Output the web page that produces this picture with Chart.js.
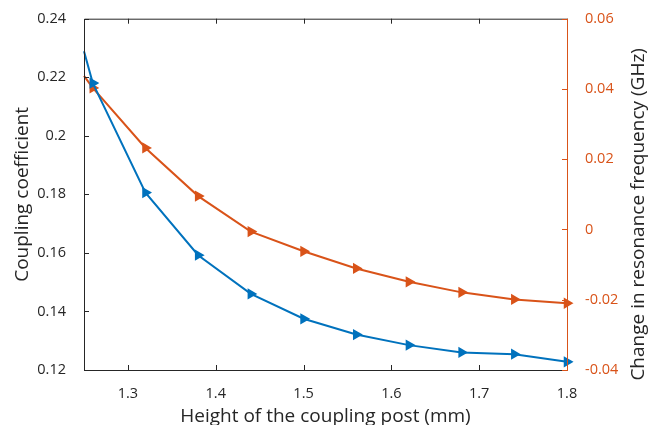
<!DOCTYPE html>
<html>
<head>
<meta charset="utf-8">
<script src="https://cdn.jsdelivr.net/npm/chart.js@4/dist/chart.umd.min.js"></script>
<style>
  body { margin: 0; background: #fff; }
</style>
</head>
<body>
<canvas id="chart" width="649" height="425"></canvas>
<script>
const heights = [1.25, 1.26, 1.32, 1.38, 1.44, 1.50, 1.56, 1.62, 1.68, 1.74, 1.80];
const coupling = [0.2289, 0.218, 0.1806, 0.1592, 0.146, 0.1375, 0.1321, 0.1285, 0.126, 0.1254, 0.1228];
const freqShift = [0.0437, 0.0403, 0.0232, 0.0095, -0.0006, -0.0062, -0.0111, -0.0149, -0.0179, -0.0199, -0.0210];
const xTicks = [1.3, 1.4, 1.5, 1.6, 1.7, 1.8];
const leftTicks = [0.12, 0.14, 0.16, 0.18, 0.2, 0.22, 0.24];
const rightTicks = [-0.04, -0.02, 0, 0.02, 0.04, 0.06];

const BLUE = '#0072BD';
const ORANGE = '#D95319';
const DARK = '#262626';
const FONT = '"Open Sans", sans-serif';

// pas de marqueur sur le premier point (au bord de l'axe)
const radii = heights.map((h, i) => i === 0 ? 0 : 4.5);

// axes façon MATLAB : cadre + graduations vers l'intérieur
const boxPlugin = {
  id: 'box',
  afterDraw(chart) {
    const { ctx, chartArea: a, scales } = chart;
    ctx.save();
    ctx.lineWidth = 1;
    ctx.strokeStyle = DARK;
    ctx.beginPath();
    ctx.moveTo(a.right, a.top + 0.5); ctx.lineTo(a.left + 0.5, a.top + 0.5);
    ctx.lineTo(a.left + 0.5, a.bottom + 0.5); ctx.lineTo(a.right, a.bottom + 0.5);
    xTicks.forEach(v => {
      const x = Math.round(scales.x.getPixelForValue(v)) + 0.5;
      ctx.moveTo(x, a.bottom); ctx.lineTo(x, a.bottom - 5);
      ctx.moveTo(x, a.top); ctx.lineTo(x, a.top + 5);
    });
    leftTicks.forEach(v => {
      const y = Math.round(scales.y.getPixelForValue(v)) + 0.5;
      ctx.moveTo(a.left, y); ctx.lineTo(a.left + 5, y);
    });
    ctx.stroke();

    ctx.strokeStyle = ORANGE;
    ctx.beginPath();
    ctx.moveTo(a.right + 0.5, a.top); ctx.lineTo(a.right + 0.5, a.bottom + 1);
    rightTicks.forEach(v => {
      const y = Math.round(scales.y2.getPixelForValue(v)) + 0.5;
      ctx.moveTo(a.right, y); ctx.lineTo(a.right - 5, y);
    });
    ctx.stroke();

    // titre de l'axe droit, lu de bas en haut
    ctx.fillStyle = DARK;
    ctx.font = '19px ' + FONT;
    ctx.textAlign = 'center';
    ctx.textBaseline = 'middle';
    ctx.translate(639, (a.top + a.bottom) / 2 + 20);
    ctx.rotate(-Math.PI / 2);
    ctx.fillText('Change in resonance frequency (GHz)', 0, 0);
    ctx.restore();
  }
};

new Chart(document.getElementById('chart'), {
  type: 'line',
  data: {
    datasets: [{
      label: 'Coupling coefficient',
      data: heights.map((h, i) => ({ x: h, y: coupling[i] })),
      borderColor: BLUE,
      backgroundColor: BLUE,
      borderWidth: 2,
      pointStyle: 'triangle',
      rotation: 90,
      pointRadius: radii,
      yAxisID: 'y',
      clip: false
    }, {
      label: 'Change in resonance frequency',
      data: heights.map((h, i) => ({ x: h, y: freqShift[i] })),
      borderColor: ORANGE,
      backgroundColor: ORANGE,
      borderWidth: 2,
      pointStyle: 'triangle',
      rotation: 90,
      pointRadius: radii,
      yAxisID: 'y2',
      clip: false
    }]
  },
  options: {
    responsive: false,
    animation: false,
    layout: { padding: { top: 15, left: 0, right: 0, bottom: 0 } },
    plugins: {
      legend: { display: false },
      tooltip: { enabled: false }
    },
    scales: {
      x: {
        type: 'linear',
        min: 1.25,
        max: 1.8,
        afterBuildTicks: s => { s.ticks = xTicks.map(v => ({ value: v })); },
        afterFit: s => { s.height = 55; },
        grid: { display: false },
        border: { display: false },
        ticks: {
          color: DARK,
          font: { family: FONT, size: 14.5 },
          padding: 7,
          maxRotation: 0,
          callback: v => v.toFixed(1)
        },
        title: {
          display: true,
          text: 'Height of the coupling post (mm)',
          color: DARK,
          font: { family: FONT, size: 19 },
          padding: { top: 0, bottom: -3 }
        }
      },
      y: {
        position: 'left',
        min: 0.12,
        max: 0.24,
        afterBuildTicks: s => { s.ticks = leftTicks.map(v => ({ value: v })); },
        afterFit: s => { s.width = 84; },
        grid: { display: false },
        border: { display: false },
        ticks: {
          color: DARK,
          font: { family: FONT, size: 14.5 },
          padding: 10,
          callback: v => String(Math.round(v * 100) / 100)
        },
        title: {
          display: true,
          text: 'Coupling coefficient',
          color: DARK,
          font: { family: FONT, size: 19 },
          padding: { top: 11, bottom: 0 }
        }
      },
      y2: {
        position: 'right',
        min: -0.04,
        max: 0.06,
        afterBuildTicks: s => { s.ticks = rightTicks.map(v => ({ value: v })); },
        afterFit: s => { s.width = 82; },
        grid: { display: false },
        border: { display: false },
        ticks: {
          color: ORANGE,
          font: { family: FONT, size: 14.5 },
          padding: 10,
          callback: v => String(Math.round(v * 100) / 100)
        }
      }
    }
  },
  plugins: [boxPlugin]
});
</script>
</body>
</html>
